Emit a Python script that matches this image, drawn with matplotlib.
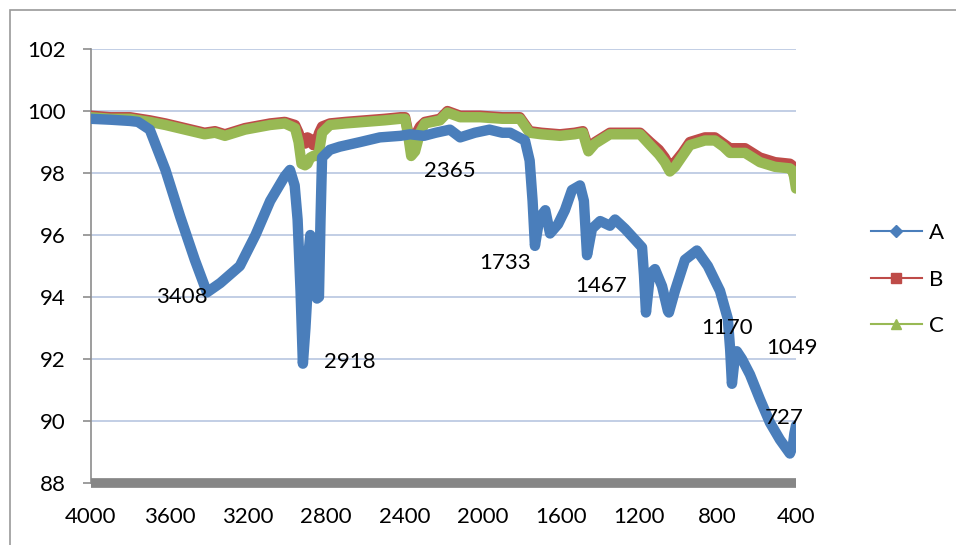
import matplotlib
matplotlib.use("Agg")
import matplotlib.pyplot as plt
from matplotlib.lines import Line2D
from matplotlib.patches import Rectangle

plt.rcParams['font.family'] = ['Lato', 'DejaVu Sans']

# Series A: wavenumber (cm-1) and transmittance (%)
wn_a = [4000, 3900, 3800, 3760, 3700, 3620, 3545, 3470, 3408, 3340, 3240, 3160,
        3085, 3010, 2984, 2960, 2945, 2930, 2918, 2905, 2897, 2888, 2880, 2862,
        2846, 2836, 2828, 2820, 2780, 2730, 2625, 2525, 2420, 2370, 2300, 2240,
        2167, 2115, 2040, 1965, 1900, 1860, 1784, 1760, 1745, 1733, 1710, 1680,
        1656, 1615, 1580, 1544, 1503, 1483, 1467, 1442, 1400, 1350, 1324, 1273,
        1222, 1186, 1176, 1166, 1145, 1120, 1084, 1054, 1049, 1018, 967, 916,
        906, 850, 788, 748, 736, 727, 715, 702, 676, 635, 584, 533, 482, 431,
        416, 408, 400]
val_a = [99.75, 99.72, 99.68, 99.65, 99.4, 98.1, 96.6, 95.2, 94.15, 94.45, 95.0, 96.0,
         97.1, 97.9, 98.1, 97.6, 96.5, 94.2, 91.85, 93.0, 93.9, 95.5, 96.0, 95.2,
         93.95, 94.0, 96.5, 98.5, 98.75, 98.85, 99.0, 99.15, 99.2, 99.25, 99.2, 99.3,
         99.4, 99.15, 99.3, 99.4, 99.3, 99.3, 99.05, 98.4, 97.1, 95.65, 96.55, 96.8,
         96.05, 96.35, 96.8, 97.45, 97.6, 97.1, 95.35, 96.2, 96.45, 96.3, 96.5, 96.2,
         95.85, 95.6, 94.7, 93.5, 94.75, 94.9, 94.35, 93.55, 93.5, 94.2, 95.2, 95.45,
         95.5, 95.0, 94.2, 93.3, 92.3, 91.2, 91.9, 92.25, 92.0, 91.5, 90.7, 89.95, 89.4, 88.95,
         89.2, 89.6, 89.85]

# Series B and C share the same wavenumber grid
wn_bc = [4000, 3900, 3800, 3750, 3700, 3620, 3520, 3420, 3367, 3316, 3214, 3085,
         3010, 2958, 2940, 2925, 2907, 2895, 2880, 2865, 2850, 2835, 2820, 2780,
         2700, 2600, 2500, 2420, 2396, 2380, 2365, 2345, 2320, 2295, 2218, 2180,
         2115, 2014, 1900, 1810, 1760, 1700, 1605, 1530, 1488, 1470, 1460, 1426,
         1350, 1298, 1196, 1145, 1100, 1070, 1044, 1018, 980, 942, 865, 814,
         770, 737, 700, 660, 584, 507, 431, 420, 410, 400]
val_b = [99.85, 99.8, 99.8, 99.75, 99.7, 99.6, 99.45, 99.3, 99.35, 99.25, 99.45, 99.6,
         99.65, 99.55, 99.3, 99.0, 98.95, 99.15, 99.1, 98.9, 99.0, 99.3, 99.5, 99.6,
         99.65, 99.7, 99.75, 99.8, 99.8, 99.3, 98.75, 99.2, 99.5, 99.65, 99.75, 100.0,
         99.85, 99.85, 99.8, 99.8, 99.35, 99.3, 99.25, 99.3, 99.35, 99.0, 98.8, 99.0,
         99.3, 99.3, 99.3, 99.0, 98.75, 98.5, 98.2, 98.35, 98.65, 99.0, 99.15, 99.15,
         98.95, 98.8, 98.8, 98.8, 98.5, 98.35, 98.3, 98.25, 98.0, 97.7]
val_c = [99.8, 99.75, 99.75, 99.7, 99.65, 99.55, 99.4, 99.25, 99.3, 99.2, 99.4, 99.55,
         99.6, 99.45, 99.0, 98.3, 98.25, 98.3, 98.5, 98.55, 98.55, 98.7, 99.3, 99.55,
         99.6, 99.65, 99.7, 99.75, 99.75, 99.2, 98.55, 98.7, 99.3, 99.6, 99.7, 99.95,
         99.8, 99.8, 99.75, 99.75, 99.3, 99.25, 99.2, 99.25, 99.3, 98.9, 98.7, 98.95,
         99.25, 99.25, 99.25, 98.9, 98.6, 98.35, 98.05, 98.2, 98.55, 98.9, 99.05, 99.05,
         98.85, 98.65, 98.65, 98.65, 98.35, 98.2, 98.15, 98.1, 97.9, 97.5]

# Peak annotations, placed beside the bands they name
peak_labels = ["3408", "2918", "2365", "1733", "1467", "1170", "1049", "727"]
peak_x = [3535, 2680, 2170, 1885, 1395, 750, 420, 460]
peak_y = [94.0, 91.9, 98.05, 95.1, 94.35, 93.0, 92.35, 90.1]

x_ticks = [4000, 3600, 3200, 2800, 2400, 2000, 1600, 1200, 800, 400]
y_ticks = [88, 90, 92, 94, 96, 98, 100, 102]

blue = "#4a7ebb"
red = "#be4b48"
green = "#98b954"

fig = plt.figure(figsize=(9.56, 5.45), dpi=100)
ax = fig.add_axes([0.0952, 0.1138, 0.7374, 0.7962])

ax.plot(wn_bc, val_b, color=red, lw=7.5, solid_joinstyle="round",
        solid_capstyle="round", zorder=3)
ax.plot(wn_bc, val_c, color=green, lw=7.5, solid_joinstyle="round",
        solid_capstyle="round", zorder=4)
ax.plot(wn_a, val_a, color=blue, lw=7.5, solid_joinstyle="round",
        solid_capstyle="round", zorder=5)

for lab, x, y in zip(peak_labels, peak_x, peak_y):
    ax.text(x, y, lab, fontsize=16, ha="center", va="center", color="black", zorder=6)

ax.set_xlim(4000, 400)
ax.set_ylim(88, 102)
ax.set_xticks(x_ticks)
ax.set_yticks(y_ticks)
ax.set_xticklabels([str(t) for t in x_ticks], fontsize=16)
ax.set_yticklabels([str(t) for t in y_ticks], fontsize=16)
ax.grid(axis="y", color="#b8c6e0", lw=1.2, zorder=0)
ax.set_axisbelow(True)

for side in ["top", "right"]:
    ax.spines[side].set_visible(False)
ax.spines["left"].set_color("#8c8c8c")
ax.spines["left"].set_linewidth(1.2)
ax.spines["bottom"].set_color("#868686")
ax.spines["bottom"].set_linewidth(7)
ax.spines["bottom"].set_capstyle("butt")
ax.tick_params(axis="y", length=6, width=1.2, color="#8c8c8c", pad=12)
ax.tick_params(axis="x", length=0, pad=17)

handles = [
    Line2D([], [], color=blue, lw=1.5, marker="D", markersize=6),
    Line2D([], [], color=red, lw=1.5, marker="s", markersize=7),
    Line2D([], [], color=green, lw=1.5, marker="^", markersize=7),
]
fig.legend(handles, ["A", "B", "C"], loc="center left",
           bbox_to_anchor=(0.911, 0.487), frameon=False, fontsize=16,
           handlelength=2.3, labelspacing=1.2, handletextpad=0.3,
           borderpad=0, borderaxespad=0)

# Chart-area border; its right and bottom edges run off the canvas
fig.patches.append(Rectangle((10 / 956, -0.05), 1.1, 1.05 - 10 / 545,
                             transform=fig.transFigure, fill=False,
                             edgecolor="#9a9a9a", lw=1.2))

fig.savefig("out.png", dpi=100)
